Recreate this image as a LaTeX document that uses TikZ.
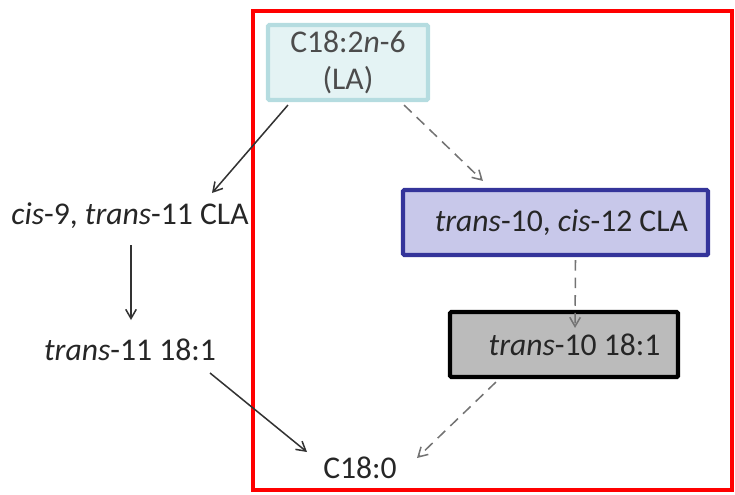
\documentclass[tikz,border=0pt]{standalone}
\usepackage{fontspec}
\setmainfont{Carlito}
\usepackage{tikz}
\usetikzlibrary{arrows.meta,calc}
\definecolor{lacol}{HTML}{E4F3F4}
\definecolor{laedge}{HTML}{B5DCE0}
\definecolor{clacol}{HTML}{C8C8EA}
\definecolor{claedge}{HTML}{34349A}
\definecolor{tencol}{HTML}{BBBBBB}
\definecolor{txtcol}{HTML}{262626}
\tikzset{
	fa/.style={font=\fontsize{27}{32}\selectfont, text=txtcol},
	fabox/.style={fa, rectangle, rounded corners=1pt, line width=3.5pt, inner sep=0pt},
	conv/.style={line width=1.3pt, draw=black!80, -{Straight Barb[angle=60:9pt]}},
	convdash/.style={conv, draw=black!55, dash pattern=on 9pt off 6pt}
}
\begin{document}
	\begin{tikzpicture}[x=0.03cm, y=-0.03cm]
		\useasboundingbox (0,0) rectangle (735,494);
		\coordinate (LA) at (348, 62.5);
		\coordinate (CLA10) at (555.5, 222.5);
		\coordinate (T10) at (564, 344.5);
		\coordinate (CLA9) at (130, 216);
		\coordinate (T11) at (130, 350);
		\coordinate (SA) at (360, 468);
		% red frame
		\draw[red, line width=4pt] (253, 11) rectangle (732, 490);
		\node (la) at (LA) [fabox, draw=laedge, fill=lacol, minimum width=4.8cm, minimum height=2.25cm, align=center, text=black!70] {C18:2\textit{n}-6\\(LA)};
		\node (cla10) at (CLA10) [fabox, draw=claedge, fill=clacol, minimum width=9.15cm, minimum height=1.95cm] {\hspace{10pt}\textit{trans}-10, \textit{cis}-12 CLA};
		\node (t10) at (T10) [fabox, draw=black, fill=tencol, minimum width=6.84cm, minimum height=1.95cm] {\hspace{18pt}\textit{trans}-10 18:1};
		\node (cla9) at (CLA9) [fa] {\textit{cis}-9, \textit{trans}-11 CLA};
		\node (t11) at (T11) [fa] {\textit{trans}-11 18:1};
		\node (sa) at (SA) [fa] {C18:0};
		\draw[conv] ($(la.south west)+(22,3)$) -- ($(cla9.center)+(82,-23)$);
		\draw[convdash] ($(la.south east)+(-26,3)$) -- ($(cla10.north west)+(82,-7)$);
		\draw[conv] ($(cla9.center)+(1,29)$) -- ($(t11.center)+(1,-30)$);
		\draw[convdash] ($(cla10.south)+(20,3)$) -- ($(t10.north)+(11,18)$);
		\draw[conv] ($(t11.center)+(80,23)$) -- ($(sa.center)+(-53,-16)$);
		\draw[convdash] ($(t10.south west)+(48,3)$) -- ($(sa.center)+(57,-10)$);
	\end{tikzpicture}
\end{document}
